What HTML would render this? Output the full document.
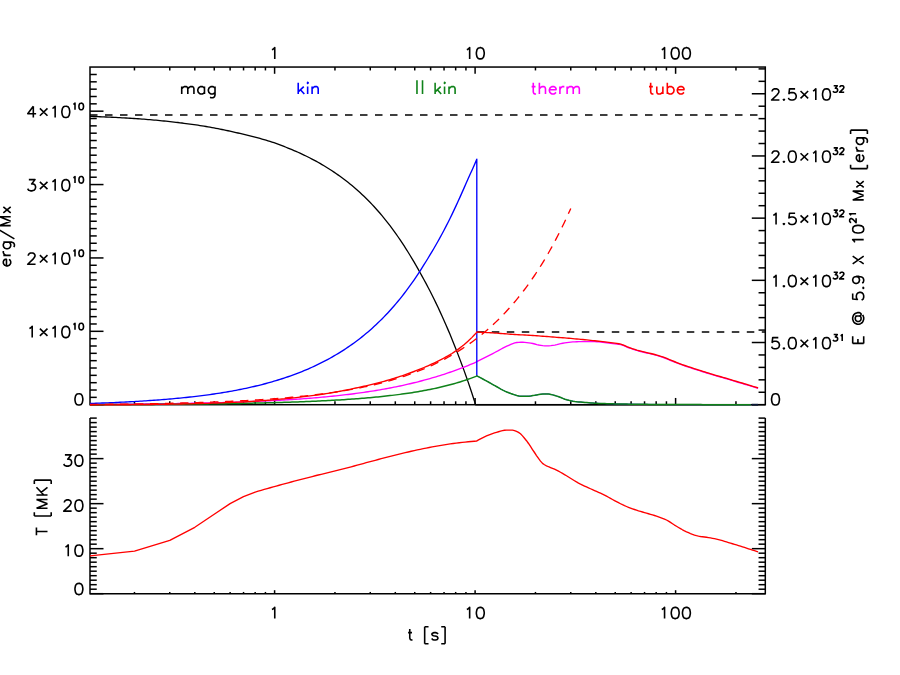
<!DOCTYPE html>
<html><head><meta charset="utf-8"><title>Energy plot</title>
<style>html,body{margin:0;padding:0;background:#fff;font-family:"Liberation Sans",sans-serif;}svg{display:block}</style>
</head><body>
<svg width="900" height="675" viewBox="0 0 900 675">
<defs><clipPath id="c1"><rect x="90" y="67.05" width="675.3" height="338.85"/></clipPath></defs>
<rect width="900" height="675" fill="#fff"/>
<rect x="90" y="67.05" width="675.3" height="337.65" fill="none" stroke="#000" stroke-width="1.5"/>
<path d="M90 418.1 L90 593.7 L765.3 593.7 L765.3 418.1" fill="none" stroke="#000" stroke-width="1.5"/>
<line x1="134.46" y1="67.05" x2="134.46" y2="70.45" stroke="#000" stroke-width="1.5" />
<line x1="169.76" y1="67.05" x2="169.76" y2="70.45" stroke="#000" stroke-width="1.5" />
<line x1="194.81" y1="67.05" x2="194.81" y2="70.45" stroke="#000" stroke-width="1.5" />
<line x1="214.24" y1="67.05" x2="214.24" y2="70.45" stroke="#000" stroke-width="1.5" />
<line x1="230.12" y1="67.05" x2="230.12" y2="70.45" stroke="#000" stroke-width="1.5" />
<line x1="243.54" y1="67.05" x2="243.54" y2="70.45" stroke="#000" stroke-width="1.5" />
<line x1="255.17" y1="67.05" x2="255.17" y2="70.45" stroke="#000" stroke-width="1.5" />
<line x1="265.43" y1="67.05" x2="265.43" y2="70.45" stroke="#000" stroke-width="1.5" />
<line x1="274.6" y1="67.05" x2="274.6" y2="73.8" stroke="#000" stroke-width="1.5" />
<line x1="334.96" y1="67.05" x2="334.96" y2="70.45" stroke="#000" stroke-width="1.5" />
<line x1="370.26" y1="67.05" x2="370.26" y2="70.45" stroke="#000" stroke-width="1.5" />
<line x1="395.31" y1="67.05" x2="395.31" y2="70.45" stroke="#000" stroke-width="1.5" />
<line x1="414.74" y1="67.05" x2="414.74" y2="70.45" stroke="#000" stroke-width="1.5" />
<line x1="430.62" y1="67.05" x2="430.62" y2="70.45" stroke="#000" stroke-width="1.5" />
<line x1="444.04" y1="67.05" x2="444.04" y2="70.45" stroke="#000" stroke-width="1.5" />
<line x1="455.67" y1="67.05" x2="455.67" y2="70.45" stroke="#000" stroke-width="1.5" />
<line x1="465.93" y1="67.05" x2="465.93" y2="70.45" stroke="#000" stroke-width="1.5" />
<line x1="475.1" y1="67.05" x2="475.1" y2="73.8" stroke="#000" stroke-width="1.5" />
<line x1="535.46" y1="67.05" x2="535.46" y2="70.45" stroke="#000" stroke-width="1.5" />
<line x1="570.76" y1="67.05" x2="570.76" y2="70.45" stroke="#000" stroke-width="1.5" />
<line x1="595.81" y1="67.05" x2="595.81" y2="70.45" stroke="#000" stroke-width="1.5" />
<line x1="615.24" y1="67.05" x2="615.24" y2="70.45" stroke="#000" stroke-width="1.5" />
<line x1="631.12" y1="67.05" x2="631.12" y2="70.45" stroke="#000" stroke-width="1.5" />
<line x1="644.54" y1="67.05" x2="644.54" y2="70.45" stroke="#000" stroke-width="1.5" />
<line x1="656.17" y1="67.05" x2="656.17" y2="70.45" stroke="#000" stroke-width="1.5" />
<line x1="666.43" y1="67.05" x2="666.43" y2="70.45" stroke="#000" stroke-width="1.5" />
<line x1="675.6" y1="67.05" x2="675.6" y2="73.8" stroke="#000" stroke-width="1.5" />
<line x1="735.96" y1="67.05" x2="735.96" y2="70.45" stroke="#000" stroke-width="1.5" />
<line x1="134.46" y1="404.7" x2="134.46" y2="401.3" stroke="#000" stroke-width="1.5" />
<line x1="169.76" y1="404.7" x2="169.76" y2="401.3" stroke="#000" stroke-width="1.5" />
<line x1="194.81" y1="404.7" x2="194.81" y2="401.3" stroke="#000" stroke-width="1.5" />
<line x1="214.24" y1="404.7" x2="214.24" y2="401.3" stroke="#000" stroke-width="1.5" />
<line x1="230.12" y1="404.7" x2="230.12" y2="401.3" stroke="#000" stroke-width="1.5" />
<line x1="243.54" y1="404.7" x2="243.54" y2="401.3" stroke="#000" stroke-width="1.5" />
<line x1="255.17" y1="404.7" x2="255.17" y2="401.3" stroke="#000" stroke-width="1.5" />
<line x1="265.43" y1="404.7" x2="265.43" y2="401.3" stroke="#000" stroke-width="1.5" />
<line x1="274.6" y1="404.7" x2="274.6" y2="397.95" stroke="#000" stroke-width="1.5" />
<line x1="334.96" y1="404.7" x2="334.96" y2="401.3" stroke="#000" stroke-width="1.5" />
<line x1="370.26" y1="404.7" x2="370.26" y2="401.3" stroke="#000" stroke-width="1.5" />
<line x1="395.31" y1="404.7" x2="395.31" y2="401.3" stroke="#000" stroke-width="1.5" />
<line x1="414.74" y1="404.7" x2="414.74" y2="401.3" stroke="#000" stroke-width="1.5" />
<line x1="430.62" y1="404.7" x2="430.62" y2="401.3" stroke="#000" stroke-width="1.5" />
<line x1="444.04" y1="404.7" x2="444.04" y2="401.3" stroke="#000" stroke-width="1.5" />
<line x1="455.67" y1="404.7" x2="455.67" y2="401.3" stroke="#000" stroke-width="1.5" />
<line x1="465.93" y1="404.7" x2="465.93" y2="401.3" stroke="#000" stroke-width="1.5" />
<line x1="475.1" y1="404.7" x2="475.1" y2="397.95" stroke="#000" stroke-width="1.5" />
<line x1="535.46" y1="404.7" x2="535.46" y2="401.3" stroke="#000" stroke-width="1.5" />
<line x1="570.76" y1="404.7" x2="570.76" y2="401.3" stroke="#000" stroke-width="1.5" />
<line x1="595.81" y1="404.7" x2="595.81" y2="401.3" stroke="#000" stroke-width="1.5" />
<line x1="615.24" y1="404.7" x2="615.24" y2="401.3" stroke="#000" stroke-width="1.5" />
<line x1="631.12" y1="404.7" x2="631.12" y2="401.3" stroke="#000" stroke-width="1.5" />
<line x1="644.54" y1="404.7" x2="644.54" y2="401.3" stroke="#000" stroke-width="1.5" />
<line x1="656.17" y1="404.7" x2="656.17" y2="401.3" stroke="#000" stroke-width="1.5" />
<line x1="666.43" y1="404.7" x2="666.43" y2="401.3" stroke="#000" stroke-width="1.5" />
<line x1="675.6" y1="404.7" x2="675.6" y2="397.95" stroke="#000" stroke-width="1.5" />
<line x1="735.96" y1="404.7" x2="735.96" y2="401.3" stroke="#000" stroke-width="1.5" />
<line x1="134.46" y1="593.7" x2="134.46" y2="591.95" stroke="#000" stroke-width="1.5" />
<line x1="169.76" y1="593.7" x2="169.76" y2="591.95" stroke="#000" stroke-width="1.5" />
<line x1="194.81" y1="593.7" x2="194.81" y2="591.95" stroke="#000" stroke-width="1.5" />
<line x1="214.24" y1="593.7" x2="214.24" y2="591.95" stroke="#000" stroke-width="1.5" />
<line x1="230.12" y1="593.7" x2="230.12" y2="591.95" stroke="#000" stroke-width="1.5" />
<line x1="243.54" y1="593.7" x2="243.54" y2="591.95" stroke="#000" stroke-width="1.5" />
<line x1="255.17" y1="593.7" x2="255.17" y2="591.95" stroke="#000" stroke-width="1.5" />
<line x1="265.43" y1="593.7" x2="265.43" y2="591.95" stroke="#000" stroke-width="1.5" />
<line x1="274.6" y1="593.7" x2="274.6" y2="590.2" stroke="#000" stroke-width="1.5" />
<line x1="334.96" y1="593.7" x2="334.96" y2="591.95" stroke="#000" stroke-width="1.5" />
<line x1="370.26" y1="593.7" x2="370.26" y2="591.95" stroke="#000" stroke-width="1.5" />
<line x1="395.31" y1="593.7" x2="395.31" y2="591.95" stroke="#000" stroke-width="1.5" />
<line x1="414.74" y1="593.7" x2="414.74" y2="591.95" stroke="#000" stroke-width="1.5" />
<line x1="430.62" y1="593.7" x2="430.62" y2="591.95" stroke="#000" stroke-width="1.5" />
<line x1="444.04" y1="593.7" x2="444.04" y2="591.95" stroke="#000" stroke-width="1.5" />
<line x1="455.67" y1="593.7" x2="455.67" y2="591.95" stroke="#000" stroke-width="1.5" />
<line x1="465.93" y1="593.7" x2="465.93" y2="591.95" stroke="#000" stroke-width="1.5" />
<line x1="475.1" y1="593.7" x2="475.1" y2="590.2" stroke="#000" stroke-width="1.5" />
<line x1="535.46" y1="593.7" x2="535.46" y2="591.95" stroke="#000" stroke-width="1.5" />
<line x1="570.76" y1="593.7" x2="570.76" y2="591.95" stroke="#000" stroke-width="1.5" />
<line x1="595.81" y1="593.7" x2="595.81" y2="591.95" stroke="#000" stroke-width="1.5" />
<line x1="615.24" y1="593.7" x2="615.24" y2="591.95" stroke="#000" stroke-width="1.5" />
<line x1="631.12" y1="593.7" x2="631.12" y2="591.95" stroke="#000" stroke-width="1.5" />
<line x1="644.54" y1="593.7" x2="644.54" y2="591.95" stroke="#000" stroke-width="1.5" />
<line x1="656.17" y1="593.7" x2="656.17" y2="591.95" stroke="#000" stroke-width="1.5" />
<line x1="666.43" y1="593.7" x2="666.43" y2="591.95" stroke="#000" stroke-width="1.5" />
<line x1="675.6" y1="593.7" x2="675.6" y2="590.2" stroke="#000" stroke-width="1.5" />
<line x1="735.96" y1="593.7" x2="735.96" y2="591.95" stroke="#000" stroke-width="1.5" />
<line x1="90" y1="404.7" x2="103.5" y2="404.7" stroke="#000" stroke-width="1.5" />
<line x1="90" y1="397.36" x2="96.75" y2="397.36" stroke="#000" stroke-width="1.5" />
<line x1="90" y1="390.02" x2="96.75" y2="390.02" stroke="#000" stroke-width="1.5" />
<line x1="90" y1="382.69" x2="96.75" y2="382.69" stroke="#000" stroke-width="1.5" />
<line x1="90" y1="375.35" x2="96.75" y2="375.35" stroke="#000" stroke-width="1.5" />
<line x1="90" y1="368.01" x2="96.75" y2="368.01" stroke="#000" stroke-width="1.5" />
<line x1="90" y1="360.67" x2="96.75" y2="360.67" stroke="#000" stroke-width="1.5" />
<line x1="90" y1="353.33" x2="96.75" y2="353.33" stroke="#000" stroke-width="1.5" />
<line x1="90" y1="346" x2="96.75" y2="346" stroke="#000" stroke-width="1.5" />
<line x1="90" y1="338.66" x2="96.75" y2="338.66" stroke="#000" stroke-width="1.5" />
<line x1="90" y1="331.32" x2="103.5" y2="331.32" stroke="#000" stroke-width="1.5" />
<line x1="90" y1="323.98" x2="96.75" y2="323.98" stroke="#000" stroke-width="1.5" />
<line x1="90" y1="316.64" x2="96.75" y2="316.64" stroke="#000" stroke-width="1.5" />
<line x1="90" y1="309.31" x2="96.75" y2="309.31" stroke="#000" stroke-width="1.5" />
<line x1="90" y1="301.97" x2="96.75" y2="301.97" stroke="#000" stroke-width="1.5" />
<line x1="90" y1="294.63" x2="96.75" y2="294.63" stroke="#000" stroke-width="1.5" />
<line x1="90" y1="287.29" x2="96.75" y2="287.29" stroke="#000" stroke-width="1.5" />
<line x1="90" y1="279.95" x2="96.75" y2="279.95" stroke="#000" stroke-width="1.5" />
<line x1="90" y1="272.62" x2="96.75" y2="272.62" stroke="#000" stroke-width="1.5" />
<line x1="90" y1="265.28" x2="96.75" y2="265.28" stroke="#000" stroke-width="1.5" />
<line x1="90" y1="257.94" x2="103.5" y2="257.94" stroke="#000" stroke-width="1.5" />
<line x1="90" y1="250.6" x2="96.75" y2="250.6" stroke="#000" stroke-width="1.5" />
<line x1="90" y1="243.26" x2="96.75" y2="243.26" stroke="#000" stroke-width="1.5" />
<line x1="90" y1="235.93" x2="96.75" y2="235.93" stroke="#000" stroke-width="1.5" />
<line x1="90" y1="228.59" x2="96.75" y2="228.59" stroke="#000" stroke-width="1.5" />
<line x1="90" y1="221.25" x2="96.75" y2="221.25" stroke="#000" stroke-width="1.5" />
<line x1="90" y1="213.91" x2="96.75" y2="213.91" stroke="#000" stroke-width="1.5" />
<line x1="90" y1="206.57" x2="96.75" y2="206.57" stroke="#000" stroke-width="1.5" />
<line x1="90" y1="199.24" x2="96.75" y2="199.24" stroke="#000" stroke-width="1.5" />
<line x1="90" y1="191.9" x2="96.75" y2="191.9" stroke="#000" stroke-width="1.5" />
<line x1="90" y1="184.56" x2="103.5" y2="184.56" stroke="#000" stroke-width="1.5" />
<line x1="90" y1="177.22" x2="96.75" y2="177.22" stroke="#000" stroke-width="1.5" />
<line x1="90" y1="169.88" x2="96.75" y2="169.88" stroke="#000" stroke-width="1.5" />
<line x1="90" y1="162.55" x2="96.75" y2="162.55" stroke="#000" stroke-width="1.5" />
<line x1="90" y1="155.21" x2="96.75" y2="155.21" stroke="#000" stroke-width="1.5" />
<line x1="90" y1="147.87" x2="96.75" y2="147.87" stroke="#000" stroke-width="1.5" />
<line x1="90" y1="140.53" x2="96.75" y2="140.53" stroke="#000" stroke-width="1.5" />
<line x1="90" y1="133.19" x2="96.75" y2="133.19" stroke="#000" stroke-width="1.5" />
<line x1="90" y1="125.86" x2="96.75" y2="125.86" stroke="#000" stroke-width="1.5" />
<line x1="90" y1="118.52" x2="96.75" y2="118.52" stroke="#000" stroke-width="1.5" />
<line x1="90" y1="111.18" x2="103.5" y2="111.18" stroke="#000" stroke-width="1.5" />
<line x1="90" y1="103.84" x2="96.75" y2="103.84" stroke="#000" stroke-width="1.5" />
<line x1="90" y1="96.5" x2="96.75" y2="96.5" stroke="#000" stroke-width="1.5" />
<line x1="90" y1="89.17" x2="96.75" y2="89.17" stroke="#000" stroke-width="1.5" />
<line x1="90" y1="81.83" x2="96.75" y2="81.83" stroke="#000" stroke-width="1.5" />
<line x1="90" y1="74.49" x2="96.75" y2="74.49" stroke="#000" stroke-width="1.5" />
<line x1="765.3" y1="404.7" x2="751.8" y2="404.7" stroke="#000" stroke-width="1.5" />
<line x1="765.3" y1="392.26" x2="758.55" y2="392.26" stroke="#000" stroke-width="1.5" />
<line x1="765.3" y1="379.83" x2="758.55" y2="379.83" stroke="#000" stroke-width="1.5" />
<line x1="765.3" y1="367.39" x2="758.55" y2="367.39" stroke="#000" stroke-width="1.5" />
<line x1="765.3" y1="354.95" x2="758.55" y2="354.95" stroke="#000" stroke-width="1.5" />
<line x1="765.3" y1="342.51" x2="751.8" y2="342.51" stroke="#000" stroke-width="1.5" />
<line x1="765.3" y1="330.08" x2="758.55" y2="330.08" stroke="#000" stroke-width="1.5" />
<line x1="765.3" y1="317.64" x2="758.55" y2="317.64" stroke="#000" stroke-width="1.5" />
<line x1="765.3" y1="305.2" x2="758.55" y2="305.2" stroke="#000" stroke-width="1.5" />
<line x1="765.3" y1="292.76" x2="758.55" y2="292.76" stroke="#000" stroke-width="1.5" />
<line x1="765.3" y1="280.33" x2="751.8" y2="280.33" stroke="#000" stroke-width="1.5" />
<line x1="765.3" y1="267.89" x2="758.55" y2="267.89" stroke="#000" stroke-width="1.5" />
<line x1="765.3" y1="255.45" x2="758.55" y2="255.45" stroke="#000" stroke-width="1.5" />
<line x1="765.3" y1="243.02" x2="758.55" y2="243.02" stroke="#000" stroke-width="1.5" />
<line x1="765.3" y1="230.58" x2="758.55" y2="230.58" stroke="#000" stroke-width="1.5" />
<line x1="765.3" y1="218.14" x2="751.8" y2="218.14" stroke="#000" stroke-width="1.5" />
<line x1="765.3" y1="205.7" x2="758.55" y2="205.7" stroke="#000" stroke-width="1.5" />
<line x1="765.3" y1="193.27" x2="758.55" y2="193.27" stroke="#000" stroke-width="1.5" />
<line x1="765.3" y1="180.83" x2="758.55" y2="180.83" stroke="#000" stroke-width="1.5" />
<line x1="765.3" y1="168.39" x2="758.55" y2="168.39" stroke="#000" stroke-width="1.5" />
<line x1="765.3" y1="155.95" x2="751.8" y2="155.95" stroke="#000" stroke-width="1.5" />
<line x1="765.3" y1="143.52" x2="758.55" y2="143.52" stroke="#000" stroke-width="1.5" />
<line x1="765.3" y1="131.08" x2="758.55" y2="131.08" stroke="#000" stroke-width="1.5" />
<line x1="765.3" y1="118.64" x2="758.55" y2="118.64" stroke="#000" stroke-width="1.5" />
<line x1="765.3" y1="106.21" x2="758.55" y2="106.21" stroke="#000" stroke-width="1.5" />
<line x1="765.3" y1="93.77" x2="751.8" y2="93.77" stroke="#000" stroke-width="1.5" />
<line x1="765.3" y1="81.33" x2="758.55" y2="81.33" stroke="#000" stroke-width="1.5" />
<line x1="765.3" y1="68.89" x2="758.55" y2="68.89" stroke="#000" stroke-width="1.5" />
<line x1="90" y1="593.7" x2="103.5" y2="593.7" stroke="#000" stroke-width="1.5" />
<line x1="765.3" y1="593.7" x2="751.8" y2="593.7" stroke="#000" stroke-width="1.5" />
<line x1="90" y1="589.2" x2="96.75" y2="589.2" stroke="#000" stroke-width="1.5" />
<line x1="765.3" y1="589.2" x2="758.55" y2="589.2" stroke="#000" stroke-width="1.5" />
<line x1="90" y1="584.69" x2="96.75" y2="584.69" stroke="#000" stroke-width="1.5" />
<line x1="765.3" y1="584.69" x2="758.55" y2="584.69" stroke="#000" stroke-width="1.5" />
<line x1="90" y1="580.19" x2="96.75" y2="580.19" stroke="#000" stroke-width="1.5" />
<line x1="765.3" y1="580.19" x2="758.55" y2="580.19" stroke="#000" stroke-width="1.5" />
<line x1="90" y1="575.69" x2="96.75" y2="575.69" stroke="#000" stroke-width="1.5" />
<line x1="765.3" y1="575.69" x2="758.55" y2="575.69" stroke="#000" stroke-width="1.5" />
<line x1="90" y1="571.19" x2="96.75" y2="571.19" stroke="#000" stroke-width="1.5" />
<line x1="765.3" y1="571.19" x2="758.55" y2="571.19" stroke="#000" stroke-width="1.5" />
<line x1="90" y1="566.68" x2="96.75" y2="566.68" stroke="#000" stroke-width="1.5" />
<line x1="765.3" y1="566.68" x2="758.55" y2="566.68" stroke="#000" stroke-width="1.5" />
<line x1="90" y1="562.18" x2="96.75" y2="562.18" stroke="#000" stroke-width="1.5" />
<line x1="765.3" y1="562.18" x2="758.55" y2="562.18" stroke="#000" stroke-width="1.5" />
<line x1="90" y1="557.68" x2="96.75" y2="557.68" stroke="#000" stroke-width="1.5" />
<line x1="765.3" y1="557.68" x2="758.55" y2="557.68" stroke="#000" stroke-width="1.5" />
<line x1="90" y1="553.18" x2="96.75" y2="553.18" stroke="#000" stroke-width="1.5" />
<line x1="765.3" y1="553.18" x2="758.55" y2="553.18" stroke="#000" stroke-width="1.5" />
<line x1="90" y1="548.67" x2="103.5" y2="548.67" stroke="#000" stroke-width="1.5" />
<line x1="765.3" y1="548.67" x2="751.8" y2="548.67" stroke="#000" stroke-width="1.5" />
<line x1="90" y1="544.17" x2="96.75" y2="544.17" stroke="#000" stroke-width="1.5" />
<line x1="765.3" y1="544.17" x2="758.55" y2="544.17" stroke="#000" stroke-width="1.5" />
<line x1="90" y1="539.67" x2="96.75" y2="539.67" stroke="#000" stroke-width="1.5" />
<line x1="765.3" y1="539.67" x2="758.55" y2="539.67" stroke="#000" stroke-width="1.5" />
<line x1="90" y1="535.17" x2="96.75" y2="535.17" stroke="#000" stroke-width="1.5" />
<line x1="765.3" y1="535.17" x2="758.55" y2="535.17" stroke="#000" stroke-width="1.5" />
<line x1="90" y1="530.66" x2="96.75" y2="530.66" stroke="#000" stroke-width="1.5" />
<line x1="765.3" y1="530.66" x2="758.55" y2="530.66" stroke="#000" stroke-width="1.5" />
<line x1="90" y1="526.16" x2="96.75" y2="526.16" stroke="#000" stroke-width="1.5" />
<line x1="765.3" y1="526.16" x2="758.55" y2="526.16" stroke="#000" stroke-width="1.5" />
<line x1="90" y1="521.66" x2="96.75" y2="521.66" stroke="#000" stroke-width="1.5" />
<line x1="765.3" y1="521.66" x2="758.55" y2="521.66" stroke="#000" stroke-width="1.5" />
<line x1="90" y1="517.16" x2="96.75" y2="517.16" stroke="#000" stroke-width="1.5" />
<line x1="765.3" y1="517.16" x2="758.55" y2="517.16" stroke="#000" stroke-width="1.5" />
<line x1="90" y1="512.65" x2="96.75" y2="512.65" stroke="#000" stroke-width="1.5" />
<line x1="765.3" y1="512.65" x2="758.55" y2="512.65" stroke="#000" stroke-width="1.5" />
<line x1="90" y1="508.15" x2="96.75" y2="508.15" stroke="#000" stroke-width="1.5" />
<line x1="765.3" y1="508.15" x2="758.55" y2="508.15" stroke="#000" stroke-width="1.5" />
<line x1="90" y1="503.65" x2="103.5" y2="503.65" stroke="#000" stroke-width="1.5" />
<line x1="765.3" y1="503.65" x2="751.8" y2="503.65" stroke="#000" stroke-width="1.5" />
<line x1="90" y1="499.15" x2="96.75" y2="499.15" stroke="#000" stroke-width="1.5" />
<line x1="765.3" y1="499.15" x2="758.55" y2="499.15" stroke="#000" stroke-width="1.5" />
<line x1="90" y1="494.64" x2="96.75" y2="494.64" stroke="#000" stroke-width="1.5" />
<line x1="765.3" y1="494.64" x2="758.55" y2="494.64" stroke="#000" stroke-width="1.5" />
<line x1="90" y1="490.14" x2="96.75" y2="490.14" stroke="#000" stroke-width="1.5" />
<line x1="765.3" y1="490.14" x2="758.55" y2="490.14" stroke="#000" stroke-width="1.5" />
<line x1="90" y1="485.64" x2="96.75" y2="485.64" stroke="#000" stroke-width="1.5" />
<line x1="765.3" y1="485.64" x2="758.55" y2="485.64" stroke="#000" stroke-width="1.5" />
<line x1="90" y1="481.14" x2="96.75" y2="481.14" stroke="#000" stroke-width="1.5" />
<line x1="765.3" y1="481.14" x2="758.55" y2="481.14" stroke="#000" stroke-width="1.5" />
<line x1="90" y1="476.63" x2="96.75" y2="476.63" stroke="#000" stroke-width="1.5" />
<line x1="765.3" y1="476.63" x2="758.55" y2="476.63" stroke="#000" stroke-width="1.5" />
<line x1="90" y1="472.13" x2="96.75" y2="472.13" stroke="#000" stroke-width="1.5" />
<line x1="765.3" y1="472.13" x2="758.55" y2="472.13" stroke="#000" stroke-width="1.5" />
<line x1="90" y1="467.63" x2="96.75" y2="467.63" stroke="#000" stroke-width="1.5" />
<line x1="765.3" y1="467.63" x2="758.55" y2="467.63" stroke="#000" stroke-width="1.5" />
<line x1="90" y1="463.13" x2="96.75" y2="463.13" stroke="#000" stroke-width="1.5" />
<line x1="765.3" y1="463.13" x2="758.55" y2="463.13" stroke="#000" stroke-width="1.5" />
<line x1="90" y1="458.62" x2="103.5" y2="458.62" stroke="#000" stroke-width="1.5" />
<line x1="765.3" y1="458.62" x2="751.8" y2="458.62" stroke="#000" stroke-width="1.5" />
<line x1="90" y1="454.12" x2="96.75" y2="454.12" stroke="#000" stroke-width="1.5" />
<line x1="765.3" y1="454.12" x2="758.55" y2="454.12" stroke="#000" stroke-width="1.5" />
<line x1="90" y1="449.62" x2="96.75" y2="449.62" stroke="#000" stroke-width="1.5" />
<line x1="765.3" y1="449.62" x2="758.55" y2="449.62" stroke="#000" stroke-width="1.5" />
<line x1="90" y1="445.12" x2="96.75" y2="445.12" stroke="#000" stroke-width="1.5" />
<line x1="765.3" y1="445.12" x2="758.55" y2="445.12" stroke="#000" stroke-width="1.5" />
<line x1="90" y1="440.61" x2="96.75" y2="440.61" stroke="#000" stroke-width="1.5" />
<line x1="765.3" y1="440.61" x2="758.55" y2="440.61" stroke="#000" stroke-width="1.5" />
<line x1="90" y1="436.11" x2="96.75" y2="436.11" stroke="#000" stroke-width="1.5" />
<line x1="765.3" y1="436.11" x2="758.55" y2="436.11" stroke="#000" stroke-width="1.5" />
<line x1="90" y1="431.61" x2="96.75" y2="431.61" stroke="#000" stroke-width="1.5" />
<line x1="765.3" y1="431.61" x2="758.55" y2="431.61" stroke="#000" stroke-width="1.5" />
<line x1="90" y1="427.11" x2="96.75" y2="427.11" stroke="#000" stroke-width="1.5" />
<line x1="765.3" y1="427.11" x2="758.55" y2="427.11" stroke="#000" stroke-width="1.5" />
<line x1="90" y1="422.6" x2="96.75" y2="422.6" stroke="#000" stroke-width="1.5" />
<line x1="765.3" y1="422.6" x2="758.55" y2="422.6" stroke="#000" stroke-width="1.5" />
<line x1="90" y1="418.1" x2="96.75" y2="418.1" stroke="#000" stroke-width="1.5" />
<line x1="765.3" y1="418.1" x2="758.55" y2="418.1" stroke="#000" stroke-width="1.5" />
<g clip-path="url(#c1)">
<line x1="90" y1="115" x2="765.3" y2="115" stroke="#000" stroke-width="1.5" stroke-dasharray="7.5 7.5"/>
<line x1="476.8" y1="332" x2="765.3" y2="332" stroke="#000" stroke-width="1.5" stroke-dasharray="7.5 7.5"/>
<polyline points="90,116.36 92,116.43 94,116.5 96,116.57 98,116.65 100,116.73 102,116.81 104,116.89 106,116.98 108,117.07 110,117.16 112,117.26 114,117.36 116,117.46 118,117.56 120,117.67 122,117.78 124,117.89 126,118.01 128,118.13 130,118.25 132,118.37 134,118.5 136,118.64 138,118.77 140,118.92 142,119.06 144,119.21 146,119.37 148,119.53 150,119.69 152,119.86 154,120.04 156,120.21 158,120.4 160,120.59 162,120.78 164,120.98 166,121.19 168,121.4 170,121.61 172,121.83 174,122.06 176,122.29 178,122.52 180,122.77 182,123.01 184,123.27 186,123.52 188,123.79 190,124.06 192,124.33 194,124.62 196,124.91 198,125.21 200,125.52 202,125.84 204,126.17 206,126.5 208,126.85 210,127.2 212,127.56 214,127.93 216,128.31 218,128.7 220,129.1 222,129.5 224,129.92 226,130.34 228,130.76 230,131.2 232,131.64 234,132.09 236,132.54 238,133 240,133.47 242,133.94 244,134.42 246,134.9 248,135.38 250,135.87 252,136.38 254,136.89 256,137.41 258,137.95 260,138.49 262,139.05 264,139.62 266,140.21 268,140.81 270,141.43 272,142.07 274,142.73 276,143.41 278,144.13 280,144.87 282,145.64 284,146.43 286,147.23 288,148.04 290,148.86 292,149.68 294,150.53 296,151.39 298,152.28 300,153.18 302,154.1 304,155.05 306,156.01 308,157 310,158.01 312,159.05 314,160.11 316,161.19 318,162.29 320,163.43 322,164.58 324,165.77 326,166.98 328,168.22 330,169.49 332,170.79 334,172.12 336,173.48 338,174.87 340,176.3 342,177.76 344,179.25 346,180.78 348,182.34 350,183.95 352,185.59 354,187.27 356,188.99 358,190.75 360,192.56 362,194.41 364,196.3 366,198.24 368,200.23 370,202.27 372,204.36 374,206.5 376,208.7 378,210.95 380,213.27 382,215.63 384,218.06 386,220.55 388,223.09 390,225.7 392,228.37 394,231.1 396,233.89 398,236.75 400,239.67 402,242.65 404,245.7 406,248.82 408,252 410,255.24 412,258.55 414,261.93 416,265.38 418,268.89 420,272.46 422,276.07 424,279.72 426,283.42 428,287.2 430,291.06 432,295.01 434,299.04 436,303.15 438,307.34 440,311.62 442,315.98 444,320.44 446,324.98 448,329.63 450,334.37 452,339.22 454,344.17 456,349.23 458,354.38 460,359.62 462,364.95 464,370.39 466,375.96 468,381.65 470,387.5 472,393.52 474,399.72 475.62,404.89 758.1,404.7" fill="none" stroke="#000" stroke-width="1.3" stroke-linejoin="round" />
<polyline points="90,404.43 92,404.42 94,404.41 96,404.39 98,404.38 100,404.37 102,404.35 104,404.34 106,404.33 108,404.31 110,404.3 112,404.28 114,404.27 116,404.25 118,404.23 120,404.22 122,404.2 124,404.18 126,404.16 128,404.15 130,404.13 132,404.11 134,404.09 136,404.07 138,404.05 140,404.03 142,404 144,403.98 146,403.96 148,403.94 150,403.91 152,403.89 154,403.86 156,403.84 158,403.81 160,403.78 162,403.76 164,403.73 166,403.7 168,403.67 170,403.64 172,403.61 174,403.58 176,403.55 178,403.51 180,403.48 182,403.44 184,403.41 186,403.37 188,403.33 190,403.3 192,403.26 194,403.22 196,403.18 198,403.13 200,403.09 202,403.05 204,403 206,402.96 208,402.91 210,402.86 212,402.81 214,402.76 216,402.71 218,402.66 220,402.6 222,402.55 224,402.49 226,402.43 228,402.37 230,402.31 232,402.25 234,402.19 236,402.12 238,402.05 240,401.98 242,401.91 244,401.84 246,401.77 248,401.69 250,401.62 252,401.54 254,401.46 256,401.37 258,401.29 260,401.2 262,401.11 264,401.02 266,400.93 268,400.83 270,400.73 272,400.63 274,400.53 276,400.43 278,400.32 280,400.21 282,400.1 284,399.98 286,399.86 288,399.74 290,399.62 292,399.49 294,399.36 296,399.23 298,399.09 300,398.96 302,398.81 304,398.67 306,398.52 308,398.37 310,398.21 312,398.05 314,397.89 316,397.72 318,397.55 320,397.38 322,397.2 324,397.01 326,396.83 328,396.63 330,396.44 332,396.24 334,396.03 336,395.82 338,395.61 340,395.39 342,395.16 344,394.93 346,394.7 348,394.46 350,394.21 352,393.96 354,393.71 356,393.44 358,393.18 360,392.9 362,392.62 364,392.34 366,392.04 368,391.74 370,391.44 372,391.13 374,390.81 376,390.48 378,390.15 380,389.81 382,389.46 384,389.1 386,388.74 388,388.37 390,387.99 392,387.6 394,387.21 396,386.81 398,386.4 400,385.98 402,385.55 404,385.11 406,384.66 408,384.21 410,383.74 412,383.27 414,382.78 416,382.29 418,381.79 420,381.27 422,380.75 424,380.21 426,379.67 428,379.11 430,378.55 432,377.97 434,377.38 436,376.78 438,376.17 440,375.55 442,374.91 444,374.27 446,373.61 448,372.94 450,372.26 452,371.56 454,370.86 456,370.14 458,369.4 460,368.66 462,367.9 464,367.13 466,366.34 468,365.55 470,364.74 472,363.91 474,363.08 476,362.23 476.8,361.6 478.8,360.61 480.8,359.61 482.8,358.61 484.8,357.61 486.8,356.6 488.8,355.58 490.8,354.56 492.8,353.54 494.8,352.51 496.8,351.47 498.8,350.37 500.8,349.25 502.8,348.14 504.8,347.09 506.8,346.12 508.8,345.26 510.8,344.38 512.8,343.56 514.8,342.89 516.8,342.51 518.8,342.34 520.8,342.23 522.8,342.21 524.8,342.33 526.8,342.55 528.8,342.84 530.8,343.15 532.8,343.52 534.8,344.02 536.8,344.54 538.8,345 540.8,345.31 542.8,345.58 544.8,345.8 546.8,345.9 548.8,345.84 550.8,345.65 552.8,345.39 554.8,345.11 556.8,344.7 558.8,344.2 560.8,343.69 562.8,343.25 564.8,342.92 566.8,342.6 568.8,342.32 570.8,342.1 572.8,341.95 574.8,341.82 576.8,341.71 578.8,341.63 580.8,341.6 582.8,341.6 584.8,341.6 586.8,341.6 588.8,341.6 590.8,341.6 592.8,341.6 594.8,341.63 596.8,341.73 598.8,341.89 600.8,342.07 602.8,342.26 604.8,342.49 606.8,342.78 608.8,343.08 610.8,343.36 612.8,343.6 614.8,343.81 616.8,344.02 618.8,344.28 620.8,344.62 622.8,345.23 624.8,346.1 626.8,347 628.8,347.76 630.8,348.48 632.8,349.17 634.8,349.82 636.8,350.43 638.8,350.99 640.8,351.51 642.8,352.01 644.8,352.5 646.8,352.99 648.8,353.45 650.8,353.91 652.8,354.39 654.8,354.91 656.8,355.46 658.8,356.05 660.8,356.67 662.8,357.33 664.8,358.05 666.8,358.85 668.8,359.69 670.8,360.53 672.8,361.34 674.8,362.15 676.8,362.95 678.8,363.74 680.8,364.49 682.8,365.2 684.8,365.89 686.8,366.55 688.8,367.2 690.8,367.86 692.8,368.52 694.8,369.18 696.8,369.82 698.8,370.47 700.8,371.11 702.8,371.74 704.8,372.37 706.8,372.99 708.8,373.61 710.8,374.23 712.8,374.84 714.8,375.44 716.8,376.03 718.8,376.6 720.8,377.15 722.8,377.7 724.8,378.27 726.8,378.86 728.8,379.47 730.8,380.09 732.8,380.71 734.8,381.32 736.8,381.91 738.8,382.49 740.8,383.07 742.8,383.65 744.8,384.25 746.8,384.85 748.8,385.46 750.8,386.07 752.8,386.68 754.8,387.29 756.8,387.9 758.1,388.3" fill="none" stroke="#ff00ff" stroke-width="1.35" stroke-linejoin="round" />
<polyline points="90,403.45 92,403.39 94,403.32 96,403.26 98,403.19 100,403.12 102,403.04 104,402.97 106,402.89 108,402.81 110,402.73 112,402.64 114,402.56 116,402.47 118,402.38 120,402.28 122,402.18 124,402.08 126,401.98 128,401.88 130,401.77 132,401.66 134,401.55 136,401.43 138,401.31 140,401.19 142,401.07 144,400.94 146,400.81 148,400.67 150,400.54 152,400.4 154,400.25 156,400.11 158,399.96 160,399.8 162,399.65 164,399.49 166,399.32 168,399.16 170,398.99 172,398.81 174,398.63 176,398.45 178,398.26 180,398.07 182,397.87 184,397.67 186,397.46 188,397.25 190,397.04 192,396.81 194,396.59 196,396.35 198,396.11 200,395.87 202,395.62 204,395.36 206,395.1 208,394.83 210,394.55 212,394.27 214,393.98 216,393.68 218,393.38 220,393.07 222,392.75 224,392.43 226,392.09 228,391.75 230,391.4 232,391.04 234,390.68 236,390.3 238,389.92 240,389.52 242,389.12 244,388.71 246,388.29 248,387.86 250,387.41 252,386.96 254,386.5 256,386.02 258,385.54 260,385.04 262,384.53 264,384.01 266,383.48 268,382.93 270,382.37 272,381.8 274,381.22 276,380.62 278,380.01 280,379.38 282,378.74 284,378.09 286,377.42 288,376.74 290,376.04 292,375.33 294,374.6 296,373.86 298,373.09 300,372.32 302,371.52 304,370.7 306,369.87 308,369.02 310,368.14 312,367.25 314,366.33 316,365.4 318,364.44 320,363.46 322,362.46 324,361.44 326,360.39 328,359.32 330,358.23 332,357.11 334,355.96 336,354.79 338,353.59 340,352.37 342,351.11 344,349.83 346,348.52 348,347.18 350,345.8 352,344.39 354,342.96 356,341.48 358,339.98 360,338.43 362,336.86 364,335.24 366,333.59 368,331.9 370,330.17 372,328.4 374,326.58 376,324.73 378,322.83 380,320.89 382,318.91 384,316.87 386,314.79 388,312.67 390,310.49 392,308.26 394,305.98 396,303.65 398,301.26 400,298.82 402,296.32 404,293.76 406,291.14 408,288.46 410,285.71 412,282.9 414,280.02 416,277.08 418,274.08 420,271.02 422,267.89 424,264.71 426,261.49 428,258.24 430,254.94 432,251.61 434,248.22 436,244.77 438,241.26 440,237.67 442,234.01 444,230.26 446,226.41 448,222.47 450,218.44 452,214.33 454,210.14 456,205.87 458,201.53 460,197.12 462,192.65 464,188.12 466,183.54 468,179.01 470,174.58 472,170.18 474,165.72 476,161.11 476.8,159.21 476.8,375.8" fill="none" stroke="#0000ff" stroke-width="1.35" stroke-linejoin="round" />
<polyline points="476.8,375.8 478.8,376.85 480.8,377.91 482.8,378.98 484.8,380.06 486.8,381.15 488.8,382.27 490.8,383.4 492.8,384.53 494.8,385.66 496.8,386.77 498.8,387.92 500.8,389.05 502.8,390.12 504.8,391.08 506.8,391.97 508.8,392.8 510.8,393.56 512.8,394.24 514.8,394.89 516.8,395.56 518.8,396.05 520.8,396.2 522.8,396.2 524.8,396.2 526.8,396.2 528.8,396.16 530.8,395.93 532.8,395.61 534.8,395.29 536.8,394.92 538.8,394.52 540.8,394.19 542.8,394.04 544.8,393.95 546.8,393.9 548.8,394.04 550.8,394.43 552.8,394.89 554.8,395.44 556.8,396.11 558.8,396.82 560.8,397.55 562.8,398.37 564.8,399.18 566.8,399.83 568.8,400.33 570.8,400.78 572.8,401.17 574.8,401.49 576.8,401.74 578.8,401.94 580.8,402.11 582.8,402.27 584.8,402.43 586.8,402.6 588.8,402.77 590.8,402.92 592.8,403.06 594.8,403.18 596.8,403.28 598.8,403.38 600.8,403.46 602.8,403.54 604.8,403.61 606.8,403.67 608.8,403.73 610.8,403.79 612.8,403.85 614.8,403.89 616.8,403.94 618.8,403.98 620.8,404.01 622.8,404.05 624.8,404.08 626.8,404.11 628.8,404.14 630.8,404.17 632.8,404.2 634.8,404.23 636.8,404.26 638.8,404.28 640.8,404.31 642.8,404.33 644.8,404.35 646.8,404.37 648.8,404.39 650.8,404.41 652.8,404.43 654.8,404.44 656.8,404.46 658.8,404.48 660.8,404.5 662.8,404.51 664.8,404.53 666.8,404.54 668.8,404.55 670.8,404.57 672.8,404.58 674.8,404.59 676.8,404.59 678.8,404.6 680.8,404.6 682.8,404.6 684.8,404.61 686.8,404.61 688.8,404.61 690.8,404.61 692.8,404.62 694.8,404.62 696.8,404.62 698.8,404.62 700.8,404.62 702.8,404.63 704.8,404.63 706.8,404.63 708.8,404.63 710.8,404.63 712.8,404.63 714.8,404.64 716.8,404.64 718.8,404.64 720.8,404.64 722.8,404.64 724.8,404.64 726.8,404.64 728.8,404.64 730.8,404.64 732.8,404.65 734.8,404.65 736.8,404.65 738.8,404.65 740.8,404.65 742.8,404.65 744.8,404.65 746.8,404.65 748.8,404.65 750.8,404.65" fill="none" stroke="#0000ff" stroke-width="0.9" stroke-linejoin="round" />
<line x1="751.7" y1="404.65" x2="758.1" y2="404.65" stroke="#0a1838" stroke-width="1.6" />
<polyline points="90,404.68 92,404.67 94,404.66 96,404.66 98,404.65 100,404.64 102,404.64 104,404.63 106,404.62 108,404.61 110,404.61 112,404.6 114,404.59 116,404.58 118,404.57 120,404.56 122,404.55 124,404.54 126,404.54 128,404.53 130,404.52 132,404.51 134,404.5 136,404.48 138,404.47 140,404.46 142,404.45 144,404.44 146,404.43 148,404.42 150,404.4 152,404.39 154,404.38 156,404.36 158,404.35 160,404.34 162,404.32 164,404.31 166,404.29 168,404.28 170,404.26 172,404.24 174,404.23 176,404.21 178,404.19 180,404.18 182,404.16 184,404.14 186,404.12 188,404.1 190,404.08 192,404.06 194,404.04 196,404.02 198,404 200,403.97 202,403.95 204,403.93 206,403.9 208,403.88 210,403.85 212,403.83 214,403.8 216,403.78 218,403.75 220,403.72 222,403.69 224,403.66 226,403.63 228,403.6 230,403.57 232,403.53 234,403.5 236,403.47 238,403.43 240,403.4 242,403.36 244,403.32 246,403.28 248,403.24 250,403.2 252,403.16 254,403.12 256,403.08 258,403.03 260,402.99 262,402.94 264,402.89 266,402.84 268,402.79 270,402.74 272,402.69 274,402.64 276,402.58 278,402.53 280,402.47 282,402.41 284,402.35 286,402.29 288,402.22 290,402.16 292,402.09 294,402.02 296,401.95 298,401.88 300,401.81 302,401.73 304,401.65 306,401.57 308,401.49 310,401.41 312,401.32 314,401.24 316,401.15 318,401.06 320,400.96 322,400.87 324,400.77 326,400.67 328,400.56 330,400.46 332,400.35 334,400.23 336,400.12 338,400 340,399.88 342,399.76 344,399.63 346,399.5 348,399.37 350,399.23 352,399.09 354,398.95 356,398.8 358,398.65 360,398.49 362,398.33 364,398.17 366,398 368,397.83 370,397.65 372,397.47 374,397.29 376,397.1 378,396.9 380,396.7 382,396.49 384,396.28 386,396.06 388,395.84 390,395.61 392,395.37 394,395.13 396,394.88 398,394.63 400,394.37 402,394.1 404,393.82 406,393.54 408,393.25 410,392.95 412,392.64 414,392.32 416,391.99 418,391.66 420,391.32 422,390.96 424,390.6 426,390.22 428,389.84 430,389.44 432,389.04 434,388.62 436,388.19 438,387.75 440,387.29 442,386.82 444,386.34 446,385.84 448,385.33 450,384.81 452,384.27 454,383.71 456,383.13 458,382.54 460,381.93 462,381.31 464,380.66 466,379.99 468,379.31 470,378.6 472,377.87 474,377.12 476,376.35 476.8,375.8 478.8,376.85 480.8,377.91 482.8,378.98 484.8,380.06 486.8,381.15 488.8,382.27 490.8,383.4 492.8,384.53 494.8,385.66 496.8,386.77 498.8,387.92 500.8,389.05 502.8,390.12 504.8,391.08 506.8,391.97 508.8,392.8 510.8,393.56 512.8,394.24 514.8,394.89 516.8,395.56 518.8,396.05 520.8,396.2 522.8,396.2 524.8,396.2 526.8,396.2 528.8,396.16 530.8,395.93 532.8,395.61 534.8,395.29 536.8,394.92 538.8,394.52 540.8,394.19 542.8,394.04 544.8,393.95 546.8,393.9 548.8,394.04 550.8,394.43 552.8,394.89 554.8,395.44 556.8,396.11 558.8,396.82 560.8,397.55 562.8,398.37 564.8,399.18 566.8,399.83 568.8,400.33 570.8,400.78 572.8,401.17 574.8,401.49 576.8,401.74 578.8,401.94 580.8,402.11 582.8,402.27 584.8,402.43 586.8,402.6 588.8,402.77 590.8,402.92 592.8,403.06 594.8,403.18 596.8,403.28 598.8,403.38 600.8,403.46 602.8,403.54 604.8,403.61 606.8,403.67 608.8,403.73 610.8,403.79 612.8,403.85 614.8,403.89 616.8,403.94 618.8,403.98 620.8,404.01 622.8,404.05 624.8,404.08 626.8,404.11 628.8,404.14 630.8,404.17 632.8,404.2 634.8,404.23 636.8,404.26 638.8,404.28 640.8,404.31 642.8,404.33 644.8,404.35 646.8,404.37 648.8,404.39 650.8,404.41 652.8,404.43 654.8,404.44 656.8,404.46 658.8,404.48 660.8,404.5 662.8,404.51 664.8,404.53 666.8,404.54 668.8,404.55 670.8,404.57 672.8,404.58 674.8,404.59 676.8,404.59 678.8,404.6 680.8,404.6 682.8,404.6 684.8,404.61 686.8,404.61 688.8,404.61 690.8,404.61 692.8,404.62 694.8,404.62 696.8,404.62 698.8,404.62 700.8,404.62 702.8,404.63 704.8,404.63 706.8,404.63 708.8,404.63 710.8,404.63 712.8,404.63 714.8,404.64 716.8,404.64 718.8,404.64 720.8,404.64 722.8,404.64 724.8,404.64 726.8,404.64 728.8,404.64 730.8,404.64 732.8,404.65 734.8,404.65 736.8,404.65 738.8,404.65 740.8,404.65 742.8,404.65 744.8,404.65 746.8,404.65 748.8,404.65 750.8,404.65" fill="none" stroke="#0f8219" stroke-width="1.5" stroke-linejoin="round" />
<polyline points="90,404.95 92,404.94 94,404.93 96,404.92 98,404.91 100,404.9 102,404.89 104,404.88 106,404.87 108,404.86 110,404.85 112,404.83 114,404.82 116,404.81 118,404.79 120,404.78 122,404.76 124,404.75 126,404.73 128,404.71 130,404.7 132,404.68 134,404.66 136,404.64 138,404.62 140,404.6 142,404.58 144,404.56 146,404.53 148,404.51 150,404.49 152,404.46 154,404.43 156,404.41 158,404.38 160,404.35 162,404.32 164,404.29 166,404.26 168,404.23 170,404.19 172,404.16 174,404.13 176,404.09 178,404.05 180,404.01 182,403.97 184,403.93 186,403.89 188,403.84 190,403.8 192,403.75 194,403.7 196,403.65 198,403.6 200,403.55 202,403.49 204,403.44 206,403.38 208,403.32 210,403.25 212,403.19 214,403.12 216,403.06 218,402.98 220,402.91 222,402.84 224,402.76 226,402.68 228,402.6 230,402.52 232,402.43 234,402.34 236,402.25 238,402.16 240,402.06 242,401.96 244,401.85 246,401.74 248,401.63 250,401.51 252,401.39 254,401.26 256,401.12 258,400.98 260,400.84 262,400.69 264,400.53 266,400.38 268,400.21 270,400.05 272,399.88 274,399.72 276,399.55 278,399.38 280,399.2 282,399.02 284,398.83 286,398.64 288,398.44 290,398.24 292,398.04 294,397.83 296,397.61 298,397.39 300,397.16 302,396.93 304,396.69 306,396.45 308,396.2 310,395.94 312,395.68 314,395.41 316,395.13 318,394.85 320,394.57 322,394.27 324,393.97 326,393.66 328,393.34 330,393.02 332,392.69 334,392.35 336,392 338,391.64 340,391.27 342,390.89 344,390.5 346,390.11 348,389.7 350,389.29 352,388.87 354,388.44 356,388.02 358,387.59 360,387.16 362,386.72 364,386.28 366,385.83 368,385.37 370,384.9 372,384.42 374,383.93 376,383.43 378,382.91 380,382.39 382,381.85 384,381.3 386,380.74 388,380.17 390,379.58 392,378.98 394,378.37 396,377.75 398,377.11 400,376.46 402,375.79 404,375.11 406,374.42 408,373.71 410,372.99 412,372.25 414,371.5 416,370.74 418,369.95 420,369.15 422,368.34 424,367.5 426,366.65 428,365.77 430,364.88 432,363.97 434,363.03 436,362.08 438,361.1 440,360.09 442,359.06 444,358.01 446,356.93 448,355.82 450,354.68 452,353.47 454,352.17 456,350.79 458,349.35 460,347.87 462,346.33 464,344.7 466,342.98 468,341.19 470,339.33 472,337.36 474,335.23 476,333.1 476.8,332 478.8,332.1 480.8,332.21 482.8,332.32 484.8,332.43 486.8,332.55 488.8,332.67 490.8,332.79 492.8,332.92 494.8,333.05 496.8,333.18 498.8,333.32 500.8,333.47 502.8,333.62 504.8,333.78 506.8,333.94 508.8,334.09 510.8,334.23 512.8,334.37 514.8,334.49 516.8,334.61 518.8,334.72 520.8,334.83 522.8,334.93 524.8,335.04 526.8,335.15 528.8,335.26 530.8,335.38 532.8,335.51 534.8,335.65 536.8,335.79 538.8,335.93 540.8,336.08 542.8,336.23 544.8,336.39 546.8,336.54 548.8,336.69 550.8,336.84 552.8,337 554.8,337.15 556.8,337.3 558.8,337.46 560.8,337.62 562.8,337.78 564.8,337.94 566.8,338.11 568.8,338.28 570.8,338.45 572.8,338.62 574.8,338.8 576.8,338.98 578.8,339.17 580.8,339.35 582.8,339.54 584.8,339.74 586.8,339.94 588.8,340.14 590.8,340.35 592.8,340.57 594.8,340.78 596.8,341 598.8,341.22 600.8,341.44 602.8,341.67 604.8,341.89 606.8,342.11 608.8,342.35 610.8,342.6 612.8,342.85 614.8,343.1 616.8,343.38 618.8,343.71 620.8,344.12 622.8,344.78 624.8,345.68 626.8,346.6 628.8,347.37 630.8,348.09 632.8,348.77 634.8,349.42 636.8,350.03 638.8,350.59 640.8,351.11 642.8,351.61 644.8,352.1 646.8,352.59 648.8,353.05 650.8,353.51 652.8,353.99 654.8,354.51 656.8,355.06 658.8,355.65 660.8,356.27 662.8,356.93 664.8,357.65 666.8,358.45 668.8,359.29 670.8,360.13 672.8,360.94 674.8,361.75 676.8,362.55 678.8,363.34 680.8,364.09 682.8,364.8 684.8,365.49 686.8,366.15 688.8,366.8 690.8,367.46 692.8,368.12 694.8,368.78 696.8,369.42 698.8,370.07 700.8,370.71 702.8,371.34 704.8,371.97 706.8,372.59 708.8,373.21 710.8,373.83 712.8,374.44 714.8,375.04 716.8,375.63 718.8,376.2 720.8,376.75 722.8,377.3 724.8,377.87 726.8,378.46 728.8,379.07 730.8,379.69 732.8,380.31 734.8,380.92 736.8,381.51 738.8,382.09 740.8,382.67 742.8,383.25 744.8,383.85 746.8,384.45 748.8,385.06 750.8,385.67 752.8,386.28 754.8,386.89 756.8,387.5 758.1,387.9" fill="none" stroke="#ff0000" stroke-width="1.35" stroke-linejoin="round" />
<polyline points="90,404.49 92,404.47 94,404.45 96,404.43 98,404.41 100,404.39 102,404.37 104,404.35 106,404.33 108,404.31 110,404.29 112,404.26 114,404.24 116,404.22 118,404.19 120,404.17 122,404.14 124,404.11 126,404.09 128,404.06 130,404.03 132,404 134,403.97 136,403.94 138,403.91 140,403.88 142,403.85 144,403.81 146,403.78 148,403.75 150,403.71 152,403.67 154,403.64 156,403.6 158,403.56 160,403.52 162,403.48 164,403.44 166,403.39 168,403.35 170,403.3 172,403.26 174,403.21 176,403.16 178,403.11 180,403.06 182,403.01 184,402.96 186,402.91 188,402.85 190,402.8 192,402.74 194,402.68 196,402.62 198,402.56 200,402.49 202,402.43 204,402.36 206,402.29 208,402.22 210,402.15 212,402.08 214,402.01 216,401.93 218,401.85 220,401.77 222,401.69 224,401.61 226,401.52 228,401.44 230,401.35 232,401.26 234,401.16 236,401.07 238,400.97 240,400.87 242,400.77 244,400.66 246,400.55 248,400.44 250,400.33 252,400.22 254,400.1 256,399.98 258,399.86 260,399.73 262,399.6 264,399.47 266,399.33 268,399.2 270,399.06 272,398.91 274,398.76 276,398.61 278,398.46 280,398.3 282,398.14 284,397.97 286,397.8 288,397.63 290,397.45 292,397.27 294,397.08 296,396.89 298,396.7 300,396.5 302,396.29 304,396.08 306,395.87 308,395.65 310,395.43 312,395.2 314,394.96 316,394.72 318,394.48 320,394.23 322,393.97 324,393.71 326,393.44 328,393.17 330,392.88 332,392.6 334,392.3 336,392 338,391.69 340,391.38 342,391.05 344,390.72 346,390.38 348,390.04 350,389.68 352,389.32 354,388.95 356,388.57 358,388.18 360,387.79 362,387.38 364,386.96 366,386.54 368,386.1 370,385.66 372,385.2 374,384.73 376,384.26 378,383.77 380,383.27 382,382.76 384,382.23 386,381.7 388,381.15 390,380.59 392,380.02 394,379.43 396,378.83 398,378.21 400,377.59 402,376.94 404,376.28 406,375.61 408,374.92 410,374.22 412,373.49 414,372.76 416,372 418,371.23 420,370.44 422,369.63 424,368.8 426,367.95 428,367.08 430,366.2 432,365.29 434,364.36 436,363.41 438,362.44 440,361.44 442,360.42 444,359.38 446,358.31 448,357.22 450,356.1 452,354.96 454,353.79 456,352.6 458,351.37 460,350.12 462,348.84 464,347.53 466,346.19 468,344.81 470,343.41 472,341.97 474,340.5 476,338.99 478,337.45 480,335.88 482,334.27 484,332.62 486,330.93 488,329.2 490,327.43 492,325.62 494,323.77 496,321.88 498,319.94 500,317.96 502,315.93 504,313.86 506,311.73 508,309.56 510,307.33 512,305.06 514,302.73 516,300.35 518,297.91 520,295.41 522,292.86 524,290.25 526,287.58 528,284.84 530,282.04 532,279.18 534,276.25 536,273.25 538,270.19 540,267.05 542,263.84 544,260.55 546,257.19 548,253.75 550,250.22 552,246.62 554,242.94 556,239.16 558,235.3 560,231.36 562,227.31 564,223.18 566,218.95 568,214.62 570,210.19 570.76,208.47" fill="none" stroke="#ff0000" stroke-width="1.35" stroke-linejoin="round" stroke-dasharray="8.5 6.5"/>
</g>
<polyline points="90,555.9 134.5,551.1 169.8,540.4 194.8,527.3 214.2,514.3 230.1,503.6 243.5,496.7 255.2,492.1 258.2,491.21 261.2,490.33 264.2,489.46 267.2,488.59 270.2,487.74 273.2,486.89 276.2,486.06 279.2,485.23 282.2,484.4 285.2,483.59 288.2,482.78 291.2,481.98 294.2,481.18 297.2,480.39 300.2,479.61 303.2,478.83 306.2,478.05 309.2,477.29 312.2,476.53 315.2,475.77 318.2,475.03 321.2,474.28 324.2,473.54 327.2,472.79 330.2,472.05 333.2,471.31 336.2,470.59 339.2,469.86 342.2,469.13 345.2,468.38 348.2,467.61 351.2,466.82 354.2,466.02 357.2,465.2 360.2,464.37 363.2,463.54 366.2,462.72 369.2,461.9 372.2,461.09 375.2,460.3 378.2,459.5 381.2,458.7 384.2,457.91 387.2,457.12 390.2,456.34 393.2,455.57 396.2,454.82 399.2,454.09 402.2,453.38 405.2,452.67 408.2,451.97 411.2,451.28 414.2,450.6 417.2,449.95 420.2,449.31 423.2,448.69 426.2,448.1 429.2,447.52 432.2,446.96 435.2,446.41 438.2,445.88 441.2,445.37 444.2,444.87 447.2,444.39 450.2,443.94 453.2,443.51 456.2,443.11 459.2,442.73 462.2,442.37 465.2,442.05 468.2,441.76 471.2,441.5 474.2,441.26 476.5,441.1 478.5,439.94 480.5,438.85 482.5,437.81 484.5,436.86 486.5,435.98 488.5,435.14 490.5,434.35 492.5,433.61 494.5,432.95 496.5,432.36 498.5,431.76 500.5,431.16 502.5,430.64 504.5,430.26 506.5,430.1 508.5,430.1 510.5,430.1 512.5,430.12 514.5,430.54 516.5,431.37 518.5,432.39 520.5,433.81 522.5,435.87 524.5,438.24 526.5,440.7 528.5,443.49 530.5,446.49 532.5,449.52 534.5,452.5 536.5,455.56 538.5,458.43 540.5,461.1 542.5,463.33 544.5,464.73 546.5,465.8 548.5,466.74 550.5,467.56 552.5,468.35 554.5,469.21 556.5,470.17 558.5,471.2 560.5,472.27 562.5,473.41 564.5,474.59 566.5,475.78 568.5,476.99 570.5,478.23 572.5,479.48 574.5,480.73 576.5,481.94 578.5,483.09 580.5,484.16 582.5,485.15 584.5,486.09 586.5,486.99 588.5,487.88 590.5,488.75 592.5,489.64 594.5,490.54 596.5,491.41 598.5,492.28 600.5,493.16 602.5,494.08 604.5,495.05 606.5,496.11 608.5,497.23 610.5,498.37 612.5,499.5 614.5,500.59 616.5,501.65 618.5,502.7 620.5,503.73 622.5,504.72 624.5,505.65 626.5,506.5 628.5,507.31 630.5,508.07 632.5,508.8 634.5,509.5 636.5,510.16 638.5,510.8 640.5,511.39 642.5,511.98 644.5,512.55 646.5,513.14 648.5,513.73 650.5,514.31 652.5,514.89 654.5,515.49 656.5,516.13 658.5,516.81 660.5,517.52 662.5,518.28 664.5,519.09 666.5,520 668.5,521.08 670.5,522.35 672.5,523.72 674.5,525.06 676.5,526.3 678.5,527.48 680.5,528.65 682.5,529.78 684.5,530.84 686.5,531.81 688.5,532.71 690.5,533.59 692.5,534.41 694.5,535.13 696.5,535.71 698.5,536.14 700.5,536.47 702.5,536.74 704.5,536.99 706.5,537.27 708.5,537.59 710.5,537.93 712.5,538.3 714.5,538.68 716.5,539.1 718.5,539.55 720.5,540.06 722.5,540.65 724.5,541.28 726.5,541.92 728.5,542.56 730.5,543.16 732.5,543.75 734.5,544.34 736.5,544.93 738.5,545.54 740.5,546.16 742.5,546.8 744.5,547.45 746.5,548.11 748.5,548.78 750.5,549.43 752.5,550.09 754.5,550.73 756.5,551.38 758.1,551.9" fill="none" stroke="#ff0000" stroke-width="1.35" stroke-linejoin="round" />
<path d="M271.96 49.8 L273.08 49.27 L274.76 47.66 L274.76 58.9" stroke="#000" stroke-width="1.6" fill="none" stroke-linecap="butt" stroke-linejoin="round"/>
<path d="M271.96 609.5 L273.08 608.97 L274.76 607.37 L274.76 618.6" stroke="#000" stroke-width="1.6" fill="none" stroke-linecap="butt" stroke-linejoin="round"/>
<path d="M466.86 49.8 L467.98 49.27 L469.66 47.66 L469.66 58.9 M479.74 47.66 L478.06 48.2 L476.94 49.8 L476.38 52.48 L476.38 54.09 L476.94 56.76 L478.06 58.37 L479.74 58.9 L480.86 58.9 L482.54 58.37 L483.66 56.76 L484.22 54.09 L484.22 52.48 L483.66 49.8 L482.54 48.2 L480.86 47.66 L479.74 47.66" stroke="#000" stroke-width="1.6" fill="none" stroke-linecap="butt" stroke-linejoin="round"/>
<path d="M466.86 609.5 L467.98 608.97 L469.66 607.37 L469.66 618.6 M479.74 607.37 L478.06 607.9 L476.94 609.5 L476.38 612.18 L476.38 613.78 L476.94 616.46 L478.06 618.07 L479.74 618.6 L480.86 618.6 L482.54 618.07 L483.66 616.46 L484.22 613.78 L484.22 612.18 L483.66 609.5 L482.54 607.9 L480.86 607.37 L479.74 607.37" stroke="#000" stroke-width="1.6" fill="none" stroke-linecap="butt" stroke-linejoin="round"/>
<path d="M661.76 49.8 L662.88 49.27 L664.56 47.66 L664.56 58.9 M674.64 47.66 L672.96 48.2 L671.84 49.8 L671.28 52.48 L671.28 54.09 L671.84 56.76 L672.96 58.37 L674.64 58.9 L675.76 58.9 L677.44 58.37 L678.56 56.76 L679.12 54.09 L679.12 52.48 L678.56 49.8 L677.44 48.2 L675.76 47.66 L674.64 47.66 M685.84 47.66 L684.16 48.2 L683.04 49.8 L682.48 52.48 L682.48 54.09 L683.04 56.76 L684.16 58.37 L685.84 58.9 L686.96 58.9 L688.64 58.37 L689.76 56.76 L690.32 54.09 L690.32 52.48 L689.76 49.8 L688.64 48.2 L686.96 47.66 L685.84 47.66" stroke="#000" stroke-width="1.6" fill="none" stroke-linecap="butt" stroke-linejoin="round"/>
<path d="M661.76 609.5 L662.88 608.97 L664.56 607.37 L664.56 618.6 M674.64 607.37 L672.96 607.9 L671.84 609.5 L671.28 612.18 L671.28 613.78 L671.84 616.46 L672.96 618.07 L674.64 618.6 L675.76 618.6 L677.44 618.07 L678.56 616.46 L679.12 613.78 L679.12 612.18 L678.56 609.5 L677.44 607.9 L675.76 607.37 L674.64 607.37 M685.84 607.37 L684.16 607.9 L683.04 609.5 L682.48 612.18 L682.48 613.78 L683.04 616.46 L684.16 618.07 L685.84 618.6 L686.96 618.6 L688.64 618.07 L689.76 616.46 L690.32 613.78 L690.32 612.18 L689.76 609.5 L688.64 607.9 L686.96 607.37 L685.84 607.37" stroke="#000" stroke-width="1.6" fill="none" stroke-linecap="butt" stroke-linejoin="round"/>
<path d="M29.4 328.52 L30.52 327.99 L32.2 326.38 L32.2 337.62 M39.87 328.58 L47.48 335.85 M47.48 328.58 L39.87 335.85 M52.36 328.52 L53.48 327.99 L55.16 326.38 L55.16 337.62 M65.24 326.38 L63.56 326.92 L62.44 328.52 L61.88 331.2 L61.88 332.81 L62.44 335.48 L63.56 337.08 L65.24 337.62 L66.36 337.62 L68.04 337.08 L69.16 335.48 L69.72 332.81 L69.72 331.2 L69.16 328.52 L68.04 326.92 L66.36 326.38 L65.24 326.38 M73.36 324.54 L74.02 324.23 L75 323.29 L75 329.86 M80.9 323.29 L79.91 323.6 L79.26 324.54 L78.93 326.11 L78.93 327.05 L79.26 328.61 L79.91 329.55 L80.9 329.86 L81.55 329.86 L82.53 329.55 L83.19 328.61 L83.52 327.05 L83.52 326.11 L83.19 324.54 L82.53 323.6 L81.55 323.29 L80.9 323.29" stroke="#000" stroke-width="1.6" fill="none" stroke-linecap="butt" stroke-linejoin="round"/>
<path d="M28.28 255.68 L28.28 255.15 L28.84 254.08 L29.4 253.54 L30.52 253 L32.76 253 L33.88 253.54 L34.44 254.08 L35 255.15 L35 256.22 L34.44 257.29 L33.32 258.89 L27.72 264.24 L35.56 264.24 M39.87 255.2 L47.48 262.47 M47.48 255.2 L39.87 262.47 M52.36 255.15 L53.48 254.61 L55.16 253 L55.16 264.24 M65.24 253 L63.56 253.54 L62.44 255.15 L61.88 257.82 L61.88 259.43 L62.44 262.1 L63.56 263.7 L65.24 264.24 L66.36 264.24 L68.04 263.7 L69.16 262.1 L69.72 259.43 L69.72 257.82 L69.16 255.15 L68.04 253.54 L66.36 253 L65.24 253 M73.36 251.16 L74.02 250.85 L75 249.91 L75 256.48 M80.9 249.91 L79.91 250.22 L79.26 251.16 L78.93 252.73 L78.93 253.67 L79.26 255.23 L79.91 256.17 L80.9 256.48 L81.55 256.48 L82.53 256.17 L83.19 255.23 L83.52 253.67 L83.52 252.73 L83.19 251.16 L82.53 250.22 L81.55 249.91 L80.9 249.91" stroke="#000" stroke-width="1.6" fill="none" stroke-linecap="butt" stroke-linejoin="round"/>
<path d="M28.84 179.62 L35 179.62 L31.64 183.91 L33.32 183.91 L34.44 184.44 L35 184.98 L35.56 186.58 L35.56 187.65 L35 189.26 L33.88 190.33 L32.2 190.86 L30.52 190.86 L28.84 190.33 L28.28 189.79 L27.72 188.72 M39.87 181.82 L47.48 189.09 M47.48 181.82 L39.87 189.09 M52.36 181.77 L53.48 181.23 L55.16 179.62 L55.16 190.86 M65.24 179.62 L63.56 180.16 L62.44 181.77 L61.88 184.44 L61.88 186.05 L62.44 188.72 L63.56 190.33 L65.24 190.86 L66.36 190.86 L68.04 190.33 L69.16 188.72 L69.72 186.05 L69.72 184.44 L69.16 181.77 L68.04 180.16 L66.36 179.62 L65.24 179.62 M73.36 177.78 L74.02 177.47 L75 176.53 L75 183.1 M80.9 176.53 L79.91 176.84 L79.26 177.78 L78.93 179.35 L78.93 180.29 L79.26 181.85 L79.91 182.79 L80.9 183.1 L81.55 183.1 L82.53 182.79 L83.19 181.85 L83.52 180.29 L83.52 179.35 L83.19 177.78 L82.53 176.84 L81.55 176.53 L80.9 176.53" stroke="#000" stroke-width="1.6" fill="none" stroke-linecap="butt" stroke-linejoin="round"/>
<path d="M33.32 106.25 L27.72 113.73 L36.12 113.73 M33.32 106.25 L33.32 117.48 M39.87 108.44 L47.48 115.71 M47.48 108.44 L39.87 115.71 M52.36 108.39 L53.48 107.85 L55.16 106.25 L55.16 117.48 M65.24 106.25 L63.56 106.78 L62.44 108.39 L61.88 111.06 L61.88 112.67 L62.44 115.34 L63.56 116.95 L65.24 117.48 L66.36 117.48 L68.04 116.95 L69.16 115.34 L69.72 112.67 L69.72 111.06 L69.16 108.39 L68.04 106.78 L66.36 106.25 L65.24 106.25 M73.36 104.4 L74.02 104.09 L75 103.15 L75 109.72 M80.9 103.15 L79.91 103.46 L79.26 104.4 L78.93 105.97 L78.93 106.91 L79.26 108.47 L79.91 109.41 L80.9 109.72 L81.55 109.72 L82.53 109.41 L83.19 108.47 L83.52 106.91 L83.52 105.97 L83.19 104.4 L82.53 103.46 L81.55 103.15 L80.9 103.15" stroke="#000" stroke-width="1.6" fill="none" stroke-linecap="butt" stroke-linejoin="round"/>
<path d="M78.34 393.76 L76.66 394.3 L75.54 395.9 L74.98 398.58 L74.98 400.19 L75.54 402.86 L76.66 404.46 L78.34 405 L79.46 405 L81.14 404.46 L82.26 402.86 L82.82 400.19 L82.82 398.58 L82.26 395.9 L81.14 394.3 L79.46 393.76 L78.34 393.76" stroke="#000" stroke-width="1.6" fill="none" stroke-linecap="butt" stroke-linejoin="round"/>
<path d="M778.3 337.58 L772.7 337.58 L772.14 342.39 L772.7 341.86 L774.38 341.32 L776.06 341.32 L777.74 341.86 L778.86 342.93 L779.42 344.53 L779.42 345.6 L778.86 347.21 L777.74 348.28 L776.06 348.81 L774.38 348.81 L772.7 348.28 L772.14 347.74 L771.58 346.67 M783.9 347.74 L783.34 348.28 L783.9 348.81 L784.46 348.28 L783.9 347.74 M791.74 337.58 L790.06 338.11 L788.94 339.72 L788.38 342.39 L788.38 344 L788.94 346.67 L790.06 348.28 L791.74 348.81 L792.86 348.81 L794.54 348.28 L795.66 346.67 L796.22 344 L796.22 342.39 L795.66 339.72 L794.54 338.11 L792.86 337.58 L791.74 337.58 M800.53 339.77 L808.15 347.05 M808.15 339.77 L800.53 347.05 M813.02 339.72 L814.14 339.18 L815.82 337.58 L815.82 348.81 M825.9 337.58 L824.22 338.11 L823.1 339.72 L822.54 342.39 L822.54 344 L823.1 346.67 L824.22 348.28 L825.9 348.81 L827.02 348.81 L828.7 348.28 L829.82 346.67 L830.38 344 L830.38 342.39 L829.82 339.72 L828.7 338.11 L827.02 337.58 L825.9 337.58 M833.7 334.48 L837.3 334.48 L835.34 336.99 L836.32 336.99 L836.97 337.3 L837.3 337.61 L837.63 338.55 L837.63 339.18 L837.3 340.12 L836.65 340.74 L835.66 341.06 L834.68 341.06 L833.7 340.74 L833.37 340.43 L833.04 339.8 M840.58 335.74 L841.23 335.42 L842.22 334.48 L842.22 341.06" stroke="#000" stroke-width="1.6" fill="none" stroke-linecap="butt" stroke-linejoin="round"/>
<path d="M773.26 277.53 L774.38 277 L776.06 275.39 L776.06 286.63 M783.9 285.56 L783.34 286.09 L783.9 286.63 L784.46 286.09 L783.9 285.56 M791.74 275.39 L790.06 275.93 L788.94 277.53 L788.38 280.21 L788.38 281.81 L788.94 284.49 L790.06 286.09 L791.74 286.63 L792.86 286.63 L794.54 286.09 L795.66 284.49 L796.22 281.81 L796.22 280.21 L795.66 277.53 L794.54 275.93 L792.86 275.39 L791.74 275.39 M800.53 277.59 L808.15 284.86 M808.15 277.59 L800.53 284.86 M813.02 277.53 L814.14 277 L815.82 275.39 L815.82 286.63 M825.9 275.39 L824.22 275.93 L823.1 277.53 L822.54 280.21 L822.54 281.81 L823.1 284.49 L824.22 286.09 L825.9 286.63 L827.02 286.63 L828.7 286.09 L829.82 284.49 L830.38 281.81 L830.38 280.21 L829.82 277.53 L828.7 275.93 L827.02 275.39 L825.9 275.39 M833.7 272.3 L837.3 272.3 L835.34 274.8 L836.32 274.8 L836.97 275.11 L837.3 275.43 L837.63 276.37 L837.63 276.99 L837.3 277.93 L836.65 278.56 L835.66 278.87 L834.68 278.87 L833.7 278.56 L833.37 278.24 L833.04 277.62 M839.92 273.86 L839.92 273.55 L840.25 272.92 L840.58 272.61 L841.23 272.3 L842.54 272.3 L843.2 272.61 L843.53 272.92 L843.85 273.55 L843.85 274.17 L843.53 274.8 L842.87 275.74 L839.59 278.87 L844.18 278.87" stroke="#000" stroke-width="1.6" fill="none" stroke-linecap="butt" stroke-linejoin="round"/>
<path d="M773.26 215.35 L774.38 214.81 L776.06 213.21 L776.06 224.44 M783.9 223.37 L783.34 223.91 L783.9 224.44 L784.46 223.91 L783.9 223.37 M795.1 213.21 L789.5 213.21 L788.94 218.02 L789.5 217.49 L791.18 216.95 L792.86 216.95 L794.54 217.49 L795.66 218.56 L796.22 220.16 L796.22 221.23 L795.66 222.84 L794.54 223.91 L792.86 224.44 L791.18 224.44 L789.5 223.91 L788.94 223.37 L788.38 222.3 M800.53 215.4 L808.15 222.68 M808.15 215.4 L800.53 222.68 M813.02 215.35 L814.14 214.81 L815.82 213.21 L815.82 224.44 M825.9 213.21 L824.22 213.74 L823.1 215.35 L822.54 218.02 L822.54 219.63 L823.1 222.3 L824.22 223.91 L825.9 224.44 L827.02 224.44 L828.7 223.91 L829.82 222.3 L830.38 219.63 L830.38 218.02 L829.82 215.35 L828.7 213.74 L827.02 213.21 L825.9 213.21 M833.7 210.11 L837.3 210.11 L835.34 212.61 L836.32 212.61 L836.97 212.93 L837.3 213.24 L837.63 214.18 L837.63 214.81 L837.3 215.74 L836.65 216.37 L835.66 216.68 L834.68 216.68 L833.7 216.37 L833.37 216.06 L833.04 215.43 M839.92 211.68 L839.92 211.36 L840.25 210.74 L840.58 210.42 L841.23 210.11 L842.54 210.11 L843.2 210.42 L843.53 210.74 L843.85 211.36 L843.85 211.99 L843.53 212.61 L842.87 213.55 L839.59 216.68 L844.18 216.68" stroke="#000" stroke-width="1.6" fill="none" stroke-linecap="butt" stroke-linejoin="round"/>
<path d="M772.14 153.69 L772.14 153.16 L772.7 152.09 L773.26 151.55 L774.38 151.02 L776.62 151.02 L777.74 151.55 L778.3 152.09 L778.86 153.16 L778.86 154.23 L778.3 155.3 L777.18 156.9 L771.58 162.25 L779.42 162.25 M783.9 161.18 L783.34 161.72 L783.9 162.25 L784.46 161.72 L783.9 161.18 M791.74 151.02 L790.06 151.55 L788.94 153.16 L788.38 155.83 L788.38 157.44 L788.94 160.11 L790.06 161.72 L791.74 162.25 L792.86 162.25 L794.54 161.72 L795.66 160.11 L796.22 157.44 L796.22 155.83 L795.66 153.16 L794.54 151.55 L792.86 151.02 L791.74 151.02 M800.53 153.21 L808.15 160.49 M808.15 153.21 L800.53 160.49 M813.02 153.16 L814.14 152.62 L815.82 151.02 L815.82 162.25 M825.9 151.02 L824.22 151.55 L823.1 153.16 L822.54 155.83 L822.54 157.44 L823.1 160.11 L824.22 161.72 L825.9 162.25 L827.02 162.25 L828.7 161.72 L829.82 160.11 L830.38 157.44 L830.38 155.83 L829.82 153.16 L828.7 151.55 L827.02 151.02 L825.9 151.02 M833.7 147.92 L837.3 147.92 L835.34 150.43 L836.32 150.43 L836.97 150.74 L837.3 151.05 L837.63 151.99 L837.63 152.62 L837.3 153.56 L836.65 154.18 L835.66 154.5 L834.68 154.5 L833.7 154.18 L833.37 153.87 L833.04 153.24 M839.92 149.49 L839.92 149.18 L840.25 148.55 L840.58 148.24 L841.23 147.92 L842.54 147.92 L843.2 148.24 L843.53 148.55 L843.85 149.18 L843.85 149.8 L843.53 150.43 L842.87 151.37 L839.59 154.5 L844.18 154.5" stroke="#000" stroke-width="1.6" fill="none" stroke-linecap="butt" stroke-linejoin="round"/>
<path d="M772.14 91.51 L772.14 90.97 L772.7 89.9 L773.26 89.37 L774.38 88.83 L776.62 88.83 L777.74 89.37 L778.3 89.9 L778.86 90.97 L778.86 92.04 L778.3 93.11 L777.18 94.72 L771.58 100.07 L779.42 100.07 M783.9 99 L783.34 99.53 L783.9 100.07 L784.46 99.53 L783.9 99 M795.1 88.83 L789.5 88.83 L788.94 93.65 L789.5 93.11 L791.18 92.58 L792.86 92.58 L794.54 93.11 L795.66 94.18 L796.22 95.79 L796.22 96.86 L795.66 98.46 L794.54 99.53 L792.86 100.07 L791.18 100.07 L789.5 99.53 L788.94 99 L788.38 97.93 M800.53 91.03 L808.15 98.3 M808.15 91.03 L800.53 98.3 M813.02 90.97 L814.14 90.44 L815.82 88.83 L815.82 100.07 M825.9 88.83 L824.22 89.37 L823.1 90.97 L822.54 93.65 L822.54 95.25 L823.1 97.93 L824.22 99.53 L825.9 100.07 L827.02 100.07 L828.7 99.53 L829.82 97.93 L830.38 95.25 L830.38 93.65 L829.82 90.97 L828.7 89.37 L827.02 88.83 L825.9 88.83 M833.7 85.74 L837.3 85.74 L835.34 88.24 L836.32 88.24 L836.97 88.55 L837.3 88.87 L837.63 89.81 L837.63 90.43 L837.3 91.37 L836.65 92 L835.66 92.31 L834.68 92.31 L833.7 92 L833.37 91.68 L833.04 91.06 M839.92 87.3 L839.92 86.99 L840.25 86.36 L840.58 86.05 L841.23 85.74 L842.54 85.74 L843.2 86.05 L843.53 86.36 L843.85 86.99 L843.85 87.62 L843.53 88.24 L842.87 89.18 L839.59 92.31 L844.18 92.31" stroke="#000" stroke-width="1.6" fill="none" stroke-linecap="butt" stroke-linejoin="round"/>
<path d="M774.94 393.76 L773.26 394.3 L772.14 395.9 L771.58 398.58 L771.58 400.19 L772.14 402.86 L773.26 404.46 L774.94 405 L776.06 405 L777.74 404.46 L778.86 402.86 L779.42 400.19 L779.42 398.58 L778.86 395.9 L777.74 394.3 L776.06 393.76 L774.94 393.76" stroke="#000" stroke-width="1.6" fill="none" stroke-linecap="butt" stroke-linejoin="round"/>
<path d="M65.46 547.08 L66.58 546.54 L68.26 544.94 L68.26 556.17 M78.34 544.94 L76.66 545.47 L75.54 547.08 L74.98 549.75 L74.98 551.36 L75.54 554.03 L76.66 555.64 L78.34 556.17 L79.46 556.17 L81.14 555.64 L82.26 554.03 L82.82 551.36 L82.82 549.75 L82.26 547.08 L81.14 545.47 L79.46 544.94 L78.34 544.94" stroke="#000" stroke-width="1.6" fill="none" stroke-linecap="butt" stroke-linejoin="round"/>
<path d="M64.34 502.59 L64.34 502.05 L64.9 500.98 L65.46 500.45 L66.58 499.91 L68.82 499.91 L69.94 500.45 L70.5 500.98 L71.06 502.05 L71.06 503.12 L70.5 504.19 L69.38 505.8 L63.78 511.15 L71.62 511.15 M78.34 499.91 L76.66 500.45 L75.54 502.05 L74.98 504.73 L74.98 506.33 L75.54 509.01 L76.66 510.61 L78.34 511.15 L79.46 511.15 L81.14 510.61 L82.26 509.01 L82.82 506.33 L82.82 504.73 L82.26 502.05 L81.14 500.45 L79.46 499.91 L78.34 499.91" stroke="#000" stroke-width="1.6" fill="none" stroke-linecap="butt" stroke-linejoin="round"/>
<path d="M64.9 454.89 L71.06 454.89 L67.7 459.17 L69.38 459.17 L70.5 459.7 L71.06 460.24 L71.62 461.84 L71.62 462.91 L71.06 464.52 L69.94 465.59 L68.26 466.12 L66.58 466.12 L64.9 465.59 L64.34 465.05 L63.78 463.98 M78.34 454.89 L76.66 455.42 L75.54 457.03 L74.98 459.7 L74.98 461.31 L75.54 463.98 L76.66 465.59 L78.34 466.12 L79.46 466.12 L81.14 465.59 L82.26 463.98 L82.82 461.31 L82.82 459.7 L82.26 457.03 L81.14 455.42 L79.46 454.89 L78.34 454.89" stroke="#000" stroke-width="1.6" fill="none" stroke-linecap="butt" stroke-linejoin="round"/>
<path d="M78.34 583.37 L76.66 583.9 L75.54 585.5 L74.98 588.18 L74.98 589.78 L75.54 592.46 L76.66 594.07 L78.34 594.6 L79.46 594.6 L81.14 594.07 L82.26 592.46 L82.82 589.78 L82.82 588.18 L82.26 585.5 L81.14 583.9 L79.46 583.37 L78.34 583.37" stroke="#000" stroke-width="1.6" fill="none" stroke-linecap="butt" stroke-linejoin="round"/>
<path d="M409.76 628.93 L409.76 637.89 L410.31 639.47 L411.42 640 L412.52 640 M408.11 632.62 L411.97 632.62 M424.67 626.82 L424.67 643.69 M424.67 626.82 L428.53 626.82 M424.67 643.69 L428.53 643.69 M437.91 634.2 L437.36 633.14 L435.71 632.62 L434.05 632.62 L432.39 633.14 L431.84 634.2 L432.39 635.25 L433.5 635.78 L436.26 636.31 L437.36 636.84 L437.91 637.89 L437.91 638.42 L437.36 639.47 L435.71 640 L434.05 640 L432.39 639.47 L431.84 638.42 M445.09 626.82 L445.09 643.69 M441.23 626.82 L445.09 626.82 M441.23 643.69 L445.09 643.69" stroke="#000" stroke-width="1.6" fill="none" stroke-linecap="butt" stroke-linejoin="round"/>
<path d="M6.48 265.91 L6.48 259.28 L5.43 259.28 L4.37 259.83 L3.84 260.39 L3.32 261.49 L3.32 263.15 L3.84 264.25 L4.9 265.36 L6.48 265.91 L7.54 265.91 L9.12 265.36 L10.17 264.25 L10.7 263.15 L10.7 261.49 L10.17 260.39 L9.12 259.28 M3.32 255.42 L10.7 255.42 M6.48 255.42 L4.9 254.87 L3.84 253.76 L3.32 252.66 L3.32 251 M3.32 242.17 L11.75 242.17 L13.34 242.72 L13.86 243.28 L14.39 244.38 L14.39 246.03 L13.86 247.14 M4.9 242.17 L3.84 243.28 L3.32 244.38 L3.32 246.03 L3.84 247.14 L4.9 248.24 L6.48 248.8 L7.54 248.8 L9.12 248.24 L10.17 247.14 L10.7 246.03 L10.7 244.38 L10.17 243.28 L9.12 242.17 M-2.48 228.92 L14.39 238.86 M-0.37 225.61 L10.7 225.61 M-0.37 225.61 L10.7 221.19 M-0.37 216.78 L10.7 221.19 M-0.37 216.78 L10.7 216.78 M3.32 212.91 L10.7 206.84 M3.32 206.84 L10.7 212.91" stroke="#000" stroke-width="1.6" fill="none" stroke-linecap="butt" stroke-linejoin="round"/>
<path d="M36.43 531.46 L47.5 531.46 M36.43 535.33 L36.43 527.6 M34.32 516.01 L51.19 516.01 M34.32 516.01 L34.32 512.14 M51.19 516.01 L51.19 512.14 M36.43 508.28 L47.5 508.28 M36.43 508.28 L47.5 503.86 M36.43 499.45 L47.5 503.86 M36.43 499.45 L47.5 499.45 M36.43 495.03 L47.5 495.03 M36.43 487.3 L43.81 495.03 M41.17 492.27 L47.5 487.3 M34.32 480.13 L51.19 480.13 M34.32 483.99 L34.32 480.13 M51.19 483.99 L51.19 480.13" stroke="#000" stroke-width="1.6" fill="none" stroke-linecap="butt" stroke-linejoin="round"/>
<path d="M852.69 343.39 L863.7 343.39 M852.69 343.39 L852.69 336.25 M857.93 343.39 L857.93 339 M863.7 343.39 L863.7 336.25 M856.88 315.94 L855.83 316.49 L855.31 317.59 L855.31 319.23 L855.83 320.33 L856.36 320.88 L857.41 321.43 L858.98 321.43 L860.03 320.88 L860.55 320.33 L861.08 319.23 L861.08 317.59 L860.55 316.49 L859.5 315.94 M855.31 315.94 L859.5 315.94 L860.55 315.39 L861.08 314.84 L861.08 313.74 L860.55 313.2 L859.5 312.65 L857.41 312.65 L855.83 313.2 L854.78 313.74 L853.73 314.84 L853.21 315.94 L852.69 317.59 L852.69 319.23 L853.21 320.88 L853.73 321.98 L854.78 323.08 L855.83 323.63 L857.41 324.18 L858.98 324.18 L860.55 323.63 L861.6 323.08 L862.65 321.98 L863.18 320.88 L863.7 319.23 L863.7 317.59 L863.18 315.94 L862.65 314.84 M852.69 293.43 L852.69 298.92 L857.41 299.47 L856.88 298.92 L856.36 297.27 L856.36 295.63 L856.88 293.98 L857.93 292.88 L859.5 292.33 L860.55 292.33 L862.13 292.88 L863.18 293.98 L863.7 295.63 L863.7 297.27 L863.18 298.92 L862.65 299.47 L861.6 300.02 M862.65 287.94 L863.18 288.49 L863.7 287.94 L863.18 287.39 L862.65 287.94 M856.36 276.41 L857.93 276.96 L858.98 278.06 L859.5 279.71 L859.5 280.26 L858.98 281.9 L857.93 283 L856.36 283.55 L855.83 283.55 L854.26 283 L853.21 281.9 L852.69 280.26 L852.69 279.71 L853.21 278.06 L854.26 276.96 L856.36 276.41 L858.98 276.41 L861.6 276.96 L863.18 278.06 L863.7 279.71 L863.7 280.8 L863.18 282.45 L862.13 283 M852.69 263.79 L863.7 256.1 M852.69 256.1 L863.7 263.79 M854.78 242.37 L854.26 241.28 L852.69 239.63 L863.7 239.63 M852.69 229.75 L853.21 231.39 L854.78 232.49 L857.41 233.04 L858.98 233.04 L861.6 232.49 L863.18 231.39 L863.7 229.75 L863.7 228.65 L863.18 227 L861.6 225.9 L858.98 225.36 L857.41 225.36 L854.78 225.9 L853.21 227 L852.69 228.65 L852.69 229.75 M851.19 222.42 L850.88 222.42 L850.27 222.1 L849.96 221.78 L849.65 221.14 L849.65 219.85 L849.96 219.21 L850.27 218.89 L850.88 218.57 L851.49 218.57 L852.11 218.89 L853.03 219.53 L856.09 222.75 L856.09 218.25 M850.88 215.36 L850.57 214.72 L849.65 213.75 L856.09 213.75 M852.69 199.88 L863.7 199.88 M852.69 199.88 L863.7 195.49 M852.69 191.1 L863.7 195.49 M852.69 191.1 L863.7 191.1 M856.36 187.26 L863.7 181.22 M856.36 181.22 L863.7 187.26 M850.59 168.59 L867.37 168.59 M850.59 168.59 L850.59 164.75 M867.37 168.59 L867.37 164.75 M859.5 161.45 L859.5 154.86 L858.46 154.86 L857.41 155.41 L856.88 155.96 L856.36 157.06 L856.36 158.71 L856.88 159.81 L857.93 160.9 L859.5 161.45 L860.55 161.45 L862.13 160.9 L863.18 159.81 L863.7 158.71 L863.7 157.06 L863.18 155.96 L862.13 154.86 M856.36 151.02 L863.7 151.02 M859.5 151.02 L857.93 150.47 L856.88 149.37 L856.36 148.28 L856.36 146.63 M856.36 137.85 L864.75 137.85 L866.32 138.39 L866.85 138.94 L867.37 140.04 L867.37 141.69 L866.85 142.79 M857.93 137.85 L856.88 138.94 L856.36 140.04 L856.36 141.69 L856.88 142.79 L857.93 143.88 L859.5 144.43 L860.55 144.43 L862.13 143.88 L863.18 142.79 L863.7 141.69 L863.7 140.04 L863.18 138.94 L862.13 137.85 M850.59 130.16 L867.37 130.16 M850.59 134 L850.59 130.16 M867.37 134 L867.37 130.16" stroke="#000" stroke-width="1.6" fill="none" stroke-linecap="butt" stroke-linejoin="round"/>
<path d="M181.72 86.58 L181.72 94 M181.72 88.7 L183.38 87.11 L184.5 86.58 L186.16 86.58 L187.27 87.11 L187.82 88.7 L187.82 94 M187.82 88.7 L189.49 87.11 L190.6 86.58 L192.26 86.58 L193.38 87.11 L193.93 88.7 L193.93 94 M204.47 86.58 L204.47 94 M204.47 88.17 L203.37 87.11 L202.25 86.58 L200.59 86.58 L199.48 87.11 L198.37 88.17 L197.81 89.76 L197.81 90.82 L198.37 92.41 L199.48 93.47 L200.59 94 L202.25 94 L203.37 93.47 L204.47 92.41 M215.02 86.58 L215.02 95.06 L214.47 96.65 L213.91 97.18 L212.8 97.71 L211.13 97.71 L210.03 97.18 M215.02 88.17 L213.91 87.11 L212.8 86.58 L211.13 86.58 L210.03 87.11 L208.91 88.17 L208.36 89.76 L208.36 90.82 L208.91 92.41 L210.03 93.47 L211.13 94 L212.8 94 L213.91 93.47 L215.02 92.41" stroke="#000" stroke-width="1.6" fill="none" stroke-linecap="butt" stroke-linejoin="round"/>
<path d="M298.22 82.87 L298.22 94 M303.77 86.58 L298.22 91.88 M300.44 89.76 L304.32 94 M307.1 82.87 L307.65 83.4 L308.21 82.87 L307.65 82.34 L307.1 82.87 M307.65 86.58 L307.65 94 M312.1 86.58 L312.1 94 M312.1 88.7 L313.76 87.11 L314.87 86.58 L316.54 86.58 L317.64 87.11 L318.2 88.7 L318.2 94" stroke="#0000ff" stroke-width="1.6" fill="none" stroke-linecap="butt" stroke-linejoin="round"/>
<path d="M416.97 80.21 L416.97 94 M422.52 80.21 L422.52 94" stroke="#0f8219" stroke-width="1.6" fill="none" stroke-linecap="butt" stroke-linejoin="round"/>
<path d="M435.12 82.87 L435.12 94 M440.67 86.58 L435.12 91.88 M437.34 89.76 L441.22 94 M444 82.87 L444.55 83.4 L445.11 82.87 L444.55 82.34 L444 82.87 M444.55 86.58 L444.55 94 M449 86.58 L449 94 M449 88.7 L450.66 87.11 L451.77 86.58 L453.44 86.58 L454.54 87.11 L455.1 88.7 L455.1 94" stroke="#0f8219" stroke-width="1.6" fill="none" stroke-linecap="butt" stroke-linejoin="round"/>
<path d="M533.27 82.87 L533.27 91.88 L533.83 93.47 L534.94 94 L536.05 94 M531.61 86.58 L535.5 86.58 M539.38 82.87 L539.38 94 M539.38 88.7 L541.04 87.11 L542.15 86.58 L543.82 86.58 L544.93 87.11 L545.49 88.7 L545.49 94 M549.37 89.76 L556.03 89.76 L556.03 88.7 L555.48 87.64 L554.92 87.11 L553.81 86.58 L552.14 86.58 L551.03 87.11 L549.92 88.17 L549.37 89.76 L549.37 90.82 L549.92 92.41 L551.03 93.47 L552.14 94 L553.81 94 L554.92 93.47 L556.03 92.41 M559.91 86.58 L559.91 94 M559.91 89.76 L560.47 88.17 L561.58 87.11 L562.69 86.58 L564.36 86.58 M567.13 86.58 L567.13 94 M567.13 88.7 L568.79 87.11 L569.9 86.58 L571.57 86.58 L572.68 87.11 L573.24 88.7 L573.24 94 M573.24 88.7 L574.9 87.11 L576.01 86.58 L577.67 86.58 L578.78 87.11 L579.34 88.7 L579.34 94" stroke="#ff00ff" stroke-width="1.6" fill="none" stroke-linecap="butt" stroke-linejoin="round"/>
<path d="M650.67 82.87 L650.67 91.88 L651.23 93.47 L652.34 94 L653.45 94 M649.01 86.58 L652.89 86.58 M656.78 86.58 L656.78 91.88 L657.33 93.47 L658.44 94 L660.11 94 L661.22 93.47 L662.88 91.88 M662.88 86.58 L662.88 94 M667.32 82.87 L667.32 94 M667.32 88.17 L668.43 87.11 L669.54 86.58 L671.21 86.58 L672.32 87.11 L673.43 88.17 L673.99 89.76 L673.99 90.82 L673.43 92.41 L672.32 93.47 L671.21 94 L669.54 94 L668.43 93.47 L667.32 92.41 M677.31 89.76 L683.98 89.76 L683.98 88.7 L683.42 87.64 L682.87 87.11 L681.75 86.58 L680.09 86.58 L678.98 87.11 L677.87 88.17 L677.31 89.76 L677.31 90.82 L677.87 92.41 L678.98 93.47 L680.09 94 L681.75 94 L682.87 93.47 L683.98 92.41" stroke="#ff0000" stroke-width="1.6" fill="none" stroke-linecap="butt" stroke-linejoin="round"/>
</svg>
</body></html>
